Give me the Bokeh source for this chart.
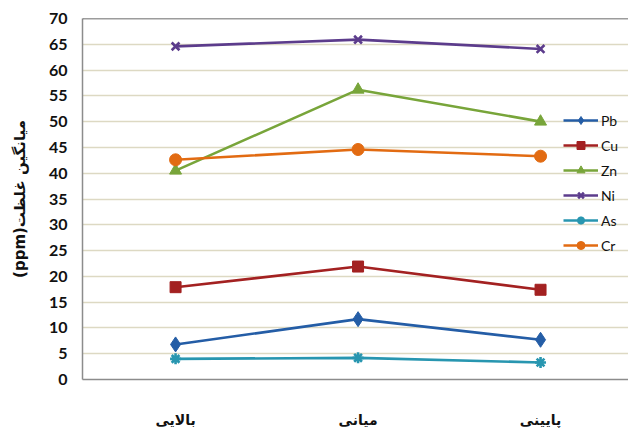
from bokeh.plotting import figure
from bokeh.models import Range1d, FixedTicker, Span, Legend, LegendItem
from bokeh.embed import file_html
from bokeh.resources import INLINE

categories = ["بالایی", "میانی", "پایینی"]
pb = [6.8, 11.7, 7.7]
cu = [17.9, 21.9, 17.4]
zn = [40.5, 56.2, 50.0]
ni = [64.6, 65.9, 64.1]
as_ = [4.0, 4.2, 3.3]
cr = [42.6, 44.6, 43.3]
y_ticks = list(range(0, 75, 5))
y_label = "\u202Bمیانگین غلظت(ppm)\u202C"

xs = list(range(len(categories)))

p = figure(width=628, height=430, output_backend="svg", toolbar_location=None,
           x_range=Range1d(-0.51, 2.482), y_range=Range1d(0, 70),
           min_border_left=82, min_border_right=0, min_border_top=18, min_border_bottom=50)
p.outline_line_color = None
p.background_fill_color = "white"
p.border_fill_color = "white"

p.xgrid.grid_line_color = None
p.ygrid.grid_line_color = "#DDD9C3"
p.ygrid.grid_line_width = 1.6
p.yaxis.ticker = FixedTicker(ticks=y_ticks)
p.xaxis.ticker = FixedTicker(ticks=xs)
p.xaxis.major_label_overrides = {i: c for i, c in enumerate(categories)}

for ax in (p.xaxis[0], p.yaxis[0]):
    ax.axis_line_color = "#8C8C8C"
    ax.axis_line_width = 1.5
    ax.major_tick_line_color = None
    ax.minor_tick_line_color = None
    ax.major_label_text_color = "#111111"
    ax.major_label_text_font_style = "bold"

p.yaxis.major_label_text_font = "Lato"
p.yaxis.major_label_text_font_size = "16px"
p.yaxis.major_label_standoff = 9
p.yaxis.axis_label = y_label
p.yaxis.axis_label_text_font = "DejaVu Sans"
p.yaxis.axis_label_text_font_size = "15px"
p.yaxis.axis_label_text_font_style = "bold"
p.yaxis.axis_label_text_color = "#111111"
p.yaxis.axis_label_standoff = 17

p.xaxis.major_label_text_font = "DejaVu Sans"
p.xaxis.major_label_text_font_size = "14px"
p.xaxis.major_label_standoff = 26

p.add_layout(Span(location=70, dimension="width", line_color="#3A3A3A", line_width=1.6))

series = [
    ("Pb", pb, "#245DA6", "diamond", 15),
    ("Cu", cu, "#A32121", "square", 11),
    ("Zn", zn, "#78A53A", "triangle", 12),
    ("Ni", ni, "#5C3C8C", "x", 11),
    ("As", as_, "#2896B0", "asterisk", 11),
    ("Cr", cr, "#E26B12", "circle", 12),
]

items = []
for name, vals, color, marker, size in series:
    ln = p.line(xs, vals, line_color=color, line_width=2.6)
    mk = p.scatter(xs, vals, marker=marker, size=size, fill_color=color,
                   line_color=color, line_width=2.6 if marker in ("x", "asterisk") else 1)
    items.append(LegendItem(label=name, renderers=[ln, mk]))

legend = Legend(items=items, location=(481, 124), orientation="vertical")
legend.background_fill_alpha = 0
legend.border_line_color = None
legend.padding = 0
legend.margin = 0
legend.spacing = 5
legend.glyph_height = 20
legend.glyph_width = 35
legend.label_height = 20
legend.label_standoff = 3
legend.label_text_font = "Lato"
legend.label_text_font_size = "14px"
legend.label_text_color = "#111111"
p.add_layout(legend)

open("out.html", "w").write(file_html(p, INLINE))
